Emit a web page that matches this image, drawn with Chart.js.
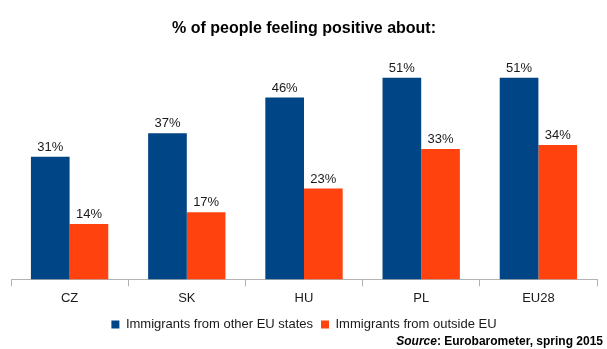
<!DOCTYPE html>
<html>
<head>
<meta charset="utf-8">
<script src="https://cdn.jsdelivr.net/npm/chart.js@4"></script>
<style>
  html, body { margin: 0; padding: 0; background: #fff; }
  #wrap { width: 607px; height: 349px; position: relative; }
</style>
</head>
<body>
<div id="wrap"><canvas id="barChart"></canvas></div>
<script>
const categories = ['CZ', 'SK', 'HU', 'PL', 'EU28'];
const otherEU = [31, 37, 46, 51, 51];
const outsideEU = [14, 17, 23, 33, 34];
const seriesNames = ['Immigrants from other EU states', 'Immigrants from outside EU'];

const FONT = "'Liberation Sans', Arial, sans-serif";

// percent labels above each bar
const valueLabels = {
  id: 'valueLabels',
  afterDatasetsDraw(chart) {
    const ctx = chart.ctx;
    ctx.save();
    ctx.font = '13px ' + FONT;
    ctx.fillStyle = '#1a1a1a';
    ctx.textAlign = 'center';
    ctx.textBaseline = 'bottom';
    chart.data.datasets.forEach((ds, i) => {
      chart.getDatasetMeta(i).data.forEach((bar, j) => {
        ctx.fillText(ds.data[j] + '%', bar.x, bar.y - 3);
      });
    });
    ctx.restore();
  }
};

// source line bottom right
const sourceNote = {
  id: 'sourceNote',
  afterDraw(chart) {
    const ctx = chart.ctx;
    ctx.save();
    ctx.fillStyle = '#000';
    ctx.textBaseline = 'alphabetic';
    ctx.textAlign = 'left';
    const rest = ': Eurobarometer, spring 2015';
    ctx.font = 'bold 12px ' + FONT;
    const wRest = ctx.measureText(rest).width;
    ctx.font = 'italic bold 12px ' + FONT;
    const wSrc = ctx.measureText('Source').width;
    const right = chart.width - 4;
    const y = 345;
    ctx.fillText('Source', right - wRest - wSrc, y);
    ctx.font = 'bold 12px ' + FONT;
    ctx.fillText(rest, right - wRest, y);
    ctx.restore();
  }
};

new Chart(document.getElementById('barChart').getContext('2d'), {
  type: 'bar',
  data: {
    labels: categories,
    datasets: [
      {
        label: seriesNames[0],
        data: otherEU,
        backgroundColor: '#004586',
        barPercentage: 1,
        categoryPercentage: 0.66
      },
      {
        label: seriesNames[1],
        data: outsideEU,
        backgroundColor: '#ff420e',
        barPercentage: 1,
        categoryPercentage: 0.66
      }
    ]
  },
  options: {
    responsive: true,
    maintainAspectRatio: false,
    animation: false,
    layout: { padding: { left: 11, right: 10, bottom: 8 } },
    plugins: {
      title: {
        display: true,
        text: '% of people feeling positive about:',
        color: '#000',
        font: { family: FONT, size: 16, weight: 'bold' },
        padding: { top: 19, bottom: 4 }
      },
      legend: {
        position: 'bottom',
        labels: {
          boxWidth: 8,
          boxHeight: 8,
          color: '#1a1a1a',
          font: { family: FONT, size: 13 },
          padding: 8
        }
      },
      tooltip: { enabled: false }
    },
    scales: {
      x: {
        grid: {
          offset: true,
          drawOnChartArea: false,
          drawTicks: true,
          tickLength: 7,
          color: '#b3b3b3'
        },
        border: { display: true, color: '#b3b3b3' },
        ticks: {
          color: '#1a1a1a',
          font: { family: FONT, size: 13 },
          padding: 4
        }
      },
      y: {
        display: false,
        min: 0,
        max: 60
      }
    }
  },
  plugins: [valueLabels, sourceNote]
});
</script>
</body>
</html>
